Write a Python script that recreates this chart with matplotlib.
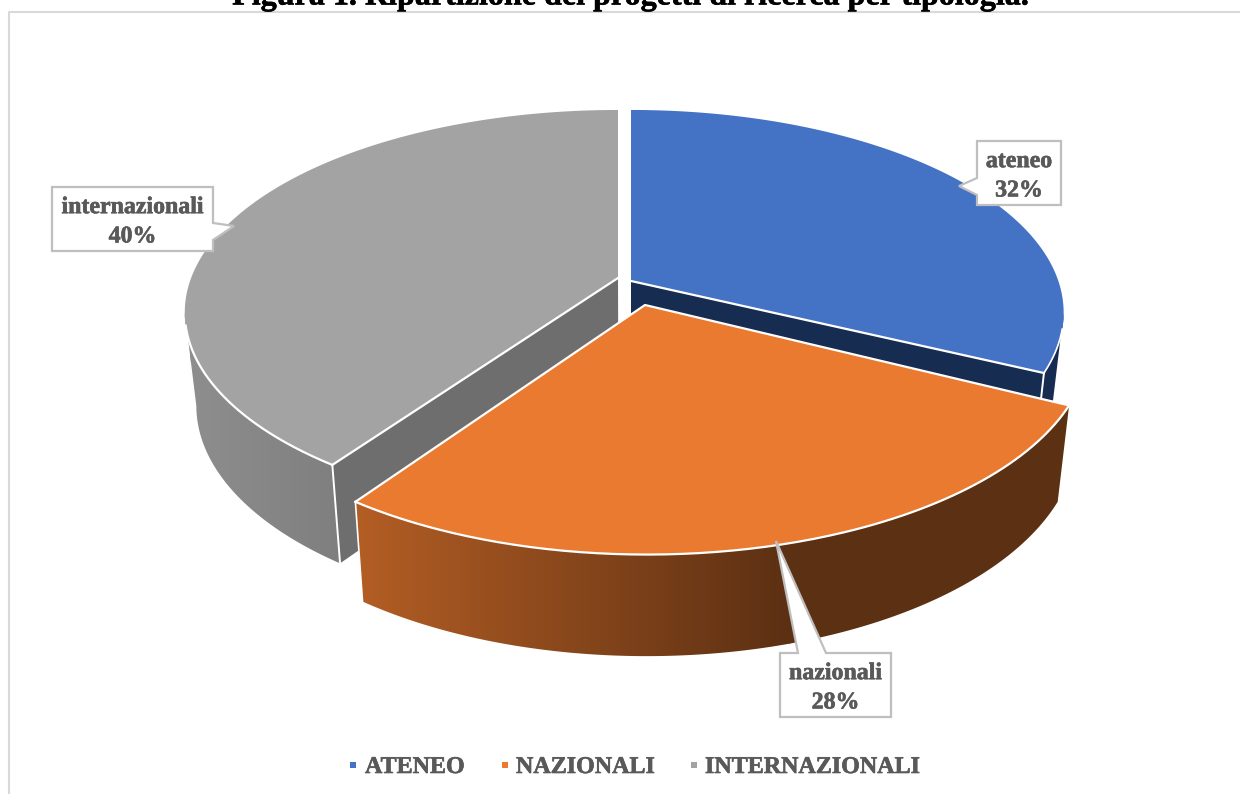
import numpy as np
import matplotlib
matplotlib.use("Agg")
import matplotlib.pyplot as plt
import matplotlib.patheffects as pe
from matplotlib.patches import Polygon, Rectangle
from matplotlib.colors import LinearSegmentedColormap

plt.rcParams["text.hinting"] = "no_hinting"

# ---- data ----
title = "Figura 1. Ripartizione dei progetti di ricerca per tipologia."
categories = ["ateneo", "nazionali", "internazionali"]
legend_labels = ["ATENEO", "NAZIONALI", "INTERNAZIONALI"]
shares = [32, 28, 40]

# ---- style ----
top_colors = ["#4472C4", "#E97A2F", "#A3A3A3"]
inner_colors = ["#172C51", "#5C3013", "#6E6E6E"]
TXT = "#595959"
FONT = "Liberation Serif"
W, H = 1240, 794
PERSP = 0.146
# centre x, centre y, x radius, y scale of each exploded slice
centers = [(631, 283, 428, 198.3), (647, 311, 437.5, 208), (618, 283, 428.6, 198.3)]
apexes = [(631, 281), (645, 305), (618, 278)]
TANGENT_R = 180 - np.degrees(np.arccos(PERSP))   # right silhouette angle
TANGENT_L = 360 - TANGENT_R                      # left silhouette angle

fig = plt.figure(figsize=(W / 100, H / 100), dpi=100, facecolor="white")
ax = fig.add_axes([0, 0, 1, 1])
ax.set_xlim(0, W)
ax.set_ylim(H, 0)
ax.axis("off")
bold = [pe.withStroke(linewidth=0.45, foreground=TXT)]


def arc(i, a0, a1, n=160):
    t = np.radians(np.linspace(a0, a1, n))
    cx, cy, R, K = centers[i]
    X, Y = np.sin(t), np.cos(t)
    f = 1 / (1 + PERSP * Y)
    return np.column_stack([cx + R * X * f, cy - K * Y * f])


def drop(p):
    p = np.atleast_2d(p).astype(float)
    return np.column_stack([p[:, 0] - (p[:, 0] - 630) * 0.026,
                            p[:, 1] + 92 + 0.035 * (p[:, 1] - 281)])


def gradient(poly, x0, x1, c0, c1, z):
    patch = Polygon(poly, closed=True, fc="none", ec="none", zorder=z)
    ax.add_patch(patch)
    cmap = LinearSegmentedColormap.from_list("g", [c0, c1])
    im = ax.imshow(np.linspace(0, 1, 256)[None, :], extent=(x0, x1, H, 0), cmap=cmap,
                   aspect="auto", zorder=z, interpolation="bilinear")
    im.set_clip_path(patch)
    if x1 < W:
        r = ax.add_patch(Rectangle((x1 - 1, 0), W - x1 + 1, H, fc=c1, ec="none", zorder=z))
        r.set_clip_path(patch)
    if x0 > 0:
        r = ax.add_patch(Rectangle((0, 0), x0 + 1, H, fc=c0, ec="none", zorder=z))
        r.set_clip_path(patch)


def wall(a0, a1, i):
    top = arc(i, a0, a1)
    return np.vstack([top, drop(top)[::-1]])


edges = np.cumsum([0] + shares) / sum(shares) * 360
WH = "white"

# grey slice
g0, g1 = edges[2], edges[3]
corner = arc(2, g0, g0, 1)
ax.add_patch(Polygon(np.vstack([apexes[2], corner, drop(corner), drop(apexes[2])]),
                     fc=inner_colors[2], ec="none", zorder=1))
gradient(wall(g0, TANGENT_L, 2), 190, 340, "#8E8E8E", "#7F7F7F", 2)
ax.plot(*np.vstack([corner, drop(corner)]).T, color=WH, lw=1.4, zorder=3)
ax.add_patch(Polygon(np.vstack([apexes[2], arc(2, g0, g1)]), fc=top_colors[2], ec="none", zorder=4))
ax.plot(*np.vstack([apexes[2], corner]).T, color=WH, lw=1.6, zorder=5)
ax.plot(*arc(2, g0, 258).T, color=WH, lw=1.6, zorder=5)

# blue slice
b0, b1 = edges[0], edges[1]
corner = arc(0, b1, b1, 1)
ax.add_patch(Polygon(wall(TANGENT_R, b1, 0), fc=inner_colors[0], ec="none", zorder=1))
ax.add_patch(Polygon(np.vstack([apexes[0], corner, drop(corner), drop(apexes[0])]),
                     fc=inner_colors[0], ec="none", zorder=2))
ax.plot(*np.vstack([corner, drop(corner)]).T, color=WH, lw=1.4, zorder=3)
ax.add_patch(Polygon(np.vstack([apexes[0], arc(0, b0, b1)]), fc=top_colors[0], ec="none", zorder=4))
ax.plot(*np.vstack([apexes[0], corner]).T, color=WH, lw=1.6, zorder=5)
ax.plot(*arc(0, 103, b1).T, color=WH, lw=1.2, zorder=5)

# orange slice
o0, o1 = edges[1], edges[2]
gradient(wall(o0, o1, 1), 362, 790, "#B25D24", "#5C3013", 6)
left = arc(1, o1, o1, 1)
ax.plot(*np.vstack([left, drop(left)]).T, color=WH, lw=1.2, zorder=7)
otop = np.vstack([apexes[1], arc(1, o0, o1)])
ax.add_patch(Polygon(otop, fc=top_colors[1], ec="none", zorder=8))
ax.plot(*np.vstack([arc(1, o1, o1, 1), apexes[1], arc(1, o0, o0, 1)]).T, color=WH, lw=1.6, zorder=9)
ax.plot(*arc(1, o0, o1).T, color=WH, lw=1.6, zorder=9)

# chart frame
ax.plot([9, 9, W], [H, 11.5, 11.5], color="#D9D9D9", lw=1.5, zorder=0)

# callouts
callouts = {
    0: ((977, 141, 1061, 205), [(977, 141), (1061, 141), (1061, 205), (977, 205), (977, 195), (959, 186), (977, 178)]),
    1: ((780, 653, 891, 717), [(780, 653), (798, 653), (776, 541), (826, 653), (891, 653), (891, 717), (780, 717)]),
    2: ((52, 187, 213, 251), [(52, 187), (213, 187), (213, 223), (234, 226), (213, 240), (213, 251), (52, 251)]),
}
for i, (box, outline) in callouts.items():
    ax.add_patch(Polygon(outline, closed=True, fc="white", ec="#BFBFBF", lw=1.6, zorder=10, joinstyle="miter"))
    ax.text((box[0] + box[2]) / 2, (box[1] + box[3]) / 2 + 3, f"{categories[i]}\n{shares[i]}%",
            ha="center", va="center", family=FONT, weight="bold", size=17.2, color=TXT,
            linespacing=1.45, zorder=11, path_effects=bold)

# legend
leg_x = [(353, 365), (505, 516), (694, 705)]
for (mx, tx), lab, col in zip(leg_x, legend_labels, top_colors):
    ax.add_patch(Rectangle((mx - 3, 762), 6, 6, fc=col, ec="none", zorder=10))
    ax.text(tx, 773, lab, ha="left", va="baseline", family=FONT, weight="bold", size=17.3, color=TXT,
            zorder=10, path_effects=bold)

# title (cut by the top of the page as in the source)
ax.text(631, 4.5, title, ha="center", va="baseline", family=FONT, weight="bold", size=23.1, color="black",
        clip_on=False, zorder=12, path_effects=[pe.withStroke(linewidth=0.4, foreground="black")])

ax.set_xlim(0, W)
ax.set_ylim(H, 0)
fig.savefig("out.png", dpi=100)
